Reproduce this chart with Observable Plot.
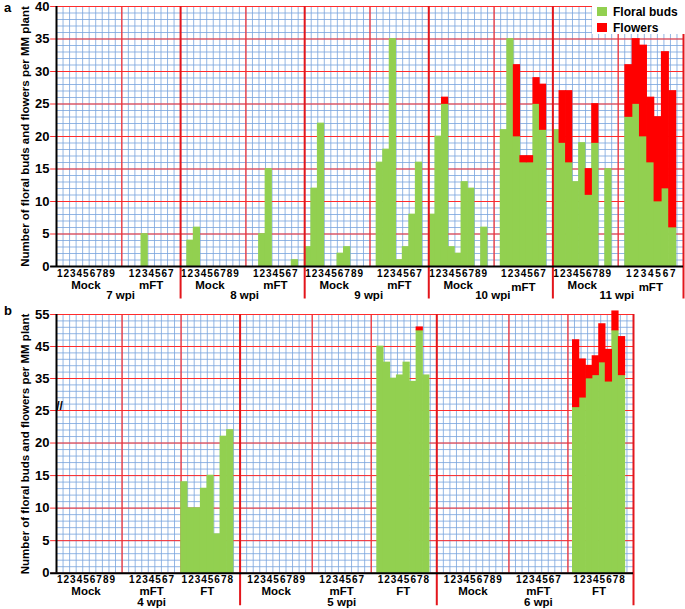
<!DOCTYPE html>
<html><head><meta charset="utf-8">
<script src="https://cdn.jsdelivr.net/npm/d3@7"></script>
<script src="https://cdn.jsdelivr.net/npm/@observablehq/plot@0.6"></script>
<style>
body{margin:0;background:#fff;}
#wrap{position:relative;width:685px;height:609px;font-family:"Liberation Sans",Arial,sans-serif;font-weight:bold;color:#000;}
#pa{position:absolute;left:0;top:0;}
#pb{position:absolute;left:0;top:303px;}
.plab{position:absolute;font-size:13px;line-height:13px;}
#legend{position:absolute;left:592px;top:0;width:93px;height:34px;background:#fff;font-size:12px;}
.sw{position:absolute;left:5px;width:10px;height:9px;}
.lt{position:absolute;left:21px;line-height:12px;}
</style></head>
<body><div id="wrap"><div id="pa"></div><div id="pb"></div>
<div class="plab" style="left:4px;top:1px;">a</div>
<div class="plab" style="left:4px;top:304px;">b</div>
<div id="legend"></div></div>
<script>
// ---------- data ----------
const seriesNames = ["Floral buds", "Flowers"];
const yTitle = "Number of floral buds and flowers per MM plant";
const treatA = ["Mock", "mFT"];
const treatB = ["Mock", "mFT", "FT"];

// panel a
const wpiA = ["7 wpi", "8 wpi", "9 wpi", "10 wpi", "11 wpi"];
const mockBudsA = [
  [0,0,0,0,0,0,0,0,0],
  [0,4,6,0,0,0,0,0,0],
  [3,12,22,0,0,2,3,0,0],
  [8,20,25,3,2,13,12,0,6],
  [21,19,16,13,19,11,19,0,15]
];
const mockFlowersA = [
  [0,0,0,0,0,0,0,0,0],
  [0,0,0,0,0,0,0,0,0],
  [0,0,0,0,0,0,0,0,0],
  [0,0,1,0,0,0,0,0,0],
  [0,8,11,0,0,4,6,0,0]
];
const mftBudsA = [
  [0,0,5,0,0,0,0],
  [0,5,15,0,0,0,1],
  [16,18,35,1,3,8,16],
  [21,35,20,16,16,25,21],
  [23,25,20,16,10,12,6]
];
const mftFlowersA = [
  [0,0,0,0,0,0,0],
  [0,0,0,0,0,0,0],
  [0,0,0,0,0,0,0],
  [0,0,11,1,1,4,7],
  [8,10,14,10,13,21,21]
];
const yTicksA = [0,5,10,15,20,25,30,35,40];

// panel b
const wpiB = ["4 wpi", "5 wpi", "6 wpi"];
const mockBudsB = [
  [0,0,0,0,0,0,0,0,0],
  [0,0,0,0,0,0,0,0,0],
  [0,0,0,0,0,0,0,0,0]
];
const mftBudsB = [
  [0,0,0,0,0,0,0],
  [0,0,0,0,0,0,0],
  [0,0,0,0,0,0,0]
];
const ftBudsB = [
  [14,10,10,13,15,6,21,22],
  [45,40,35,36,40,34,50,36],
  [26,29,35,36,40,34,50,36]
];
const ftFlowersB = [
  [0,0,0,0,0,0,0,0],
  [0,0,0,0,0,0,1,0],
  [21,12,4,6,12,10,6,12]
];
const yTicksB = [0,5,10,15,20,25,35,45,55];
const yBreak = 25;

// ---------- styling ----------
const GREEN = "#92d050", RED = "#ff0000";
const BLUE = "#78a4dd", GRID_RED = "#ff2b2b", BOUND = "#e3161c";
const FONT = "'Liberation Sans', Arial, sans-serif";

// ---------- layout (cell units) ----------
function build(groups) {
  const bars = [], digits = [], names = [];
  for (const g of groups) {
    const xs = [];
    g.buds.forEach((b, k) => {
      const x1 = g.start + g.offset + k * g.bw, x2 = x1 + g.bw;
      const f = g.flowers ? g.flowers[k] : 0;
      if (b > 0) bars.push({x1, x2, y1: 0, y2: b, s: seriesNames[0]});
      if (f > 0) bars.push({x1, x2, y1: b, y2: b + f, s: seriesNames[1]});
      digits.push({x: (x1 + x2) / 2, t: String(k + 1)});
      xs.push((x1 + x2) / 2);
    });
    g.center = d3.mean(xs);
    names.push({x: g.center, t: g.name, raised: g.raised});
  }
  return {bars, digits, names};
}

// panel a groups
const groupsA = [];
const wpiLabA = [];
wpiA.forEach((w, i) => {
  const last = i === wpiA.length - 1;
  const ms = 19 * i, fs = 19 * i + 10;
  groupsA.push({name: treatA[0], start: ms, offset: 0, bw: 1, buds: mockBudsA[i], flowers: mockFlowersA[i], raised: false});
  groupsA.push({name: treatA[1], start: fs, offset: last ? 1.07 : 1, bw: last ? 1.12 : 1, buds: mftBudsA[i], flowers: mftFlowersA[i], raised: i >= 3});
  wpiLabA.push({x: fs - 0.2, t: w});
});
const A = build(groupsA);
const NA = 96;
const thinA = [10, 29, 48, 67, 86];
const thickA = [19, 38, 57, 76, 96];

// panel b groups
const startsB = [[0, 10, 19], [28, 39, 48], [58, 69, 78]];
const offsB = [[0, 1, 0], [1, 1, 0.9], [1, 1, 0.75]];
const groupsB = [];
wpiB.forEach((w, i) => {
  groupsB.push({name: treatB[0], start: startsB[i][0], offset: offsB[i][0], bw: 1, buds: mockBudsB[i], flowers: null, raised: false});
  groupsB.push({name: treatB[1], start: startsB[i][1], offset: offsB[i][1], bw: 1, buds: mftBudsB[i], flowers: null, raised: false});
  groupsB.push({name: treatB[2], start: startsB[i][2], offset: offsB[i][2], bw: 1, buds: ftBudsB[i], flowers: ftFlowersB[i], raised: false});
});
const B = build(groupsB);
const wpiLabB = wpiB.map((w, i) => ({x: groupsB[i * 3 + 1].center, t: w}));
const NB = 88;
const thinB = [10, 19, 39, 48, 69, 78];
const thickB = [28, 58, 88];

function panel({N, yDomain, yRange, blueY, redY, ticks, thin, thick, data, wpiLab, height, marginTop, marginBottom, marginRight, digitDy, nameDy, wpiDy, extra}) {
  const y0 = yDomain[0], yTop = yDomain[yDomain.length - 1];
  return Plot.plot({
    width: 685, height, marginLeft: 56, marginRight, marginTop, marginBottom,
    style: {fontFamily: FONT, fontWeight: "bold", background: "transparent", overflow: "visible", color: "#000"},
    x: {type: "linear", domain: [0, N], axis: null},
    y: {type: "linear", domain: yDomain, range: yRange},
    color: {domain: seriesNames, range: [GREEN, RED]},
    marks: [
      Plot.ruleY(blueY, {x1: 0, x2: N, stroke: BLUE, strokeWidth: 1, strokeOpacity: 0.8}),
      Plot.ruleX(d3.range(1, N), {y1: y0, y2: yTop, stroke: BLUE, strokeWidth: 1, strokeOpacity: 0.8}),
      Plot.ruleY(redY, {x1: -0.9, x2: N, stroke: GRID_RED, strokeWidth: 1}),
      Plot.ruleX(thin, {y1: y0, y2: yTop, stroke: GRID_RED, strokeWidth: 1.2}),
      Plot.rect(data.bars.filter(d => d.s === seriesNames[0]), {x1: "x1", x2: "x2", y1: "y1", y2: "y2", fill: "s", inset: -0.35}),
      Plot.rect(data.bars.filter(d => d.s === seriesNames[1]), {x1: "x1", x2: "x2", y1: "y1", y2: "y2", fill: "s", inset: -0.35}),
      Plot.ruleX(thick, {y1: -5, y2: yTop, stroke: BOUND, strokeWidth: 2}),
      Plot.ruleY([0], {x1: -0.9, x2: N, stroke: "#000", strokeWidth: 2}),
      Plot.ruleX([0], {y1: 0, y2: yTop, stroke: "#000", strokeWidth: 2}),
      Plot.axisY({ticks, tickSize: 0, tickPadding: 7, fontSize: 13, fontWeight: "bold", label: null}),
      Plot.text([yTitle], {frameAnchor: "left", textAnchor: "middle", dx: -31, rotate: -90, fontSize: 11.5, fontWeight: "bold"}),
      Plot.text(data.digits, {x: "x", y: 0, dy: digitDy, text: "t", fontSize: 10, fontWeight: "bold"}),
      Plot.text(data.names.filter(d => !d.raised), {x: "x", y: 0, dy: nameDy, text: "t", fontSize: 11.5, fontWeight: "bold"}),
      Plot.text(data.names.filter(d => d.raised), {x: "x", y: 0, dy: nameDy + 2, text: "t", fontSize: 11.5, fontWeight: "bold"}),
      Plot.text(wpiLab, {x: "x", y: 0, dy: wpiDy, text: "t", fontSize: 11.5, fontWeight: "bold"}),
      ...(extra || [])
    ]
  });
}

const plotA = panel({
  N: NA, yDomain: [0, 40], yRange: [266, 6],
  blueY: d3.range(0, 41), redY: yTicksA, ticks: yTicksA,
  thin: thinA, thick: thickA, data: A, wpiLab: wpiLabA,
  height: 303, marginTop: 6, marginBottom: 37, marginRight: 2, digitDy: 7.5, nameDy: 18.5, wpiDy: 29
});
document.getElementById("pa").appendChild(plotA);

const blueYB = d3.range(0, yBreak).concat(d3.range(yBreak, 56, 2));
const plotB = panel({
  N: NB, yDomain: [0, yBreak, 55], yRange: [269.7, 107, 11],
  blueY: blueYB, redY: yTicksB, ticks: yTicksB,
  thin: thinB, thick: thickB, data: B, wpiLab: wpiLabB,
  height: 306, marginTop: 11, marginBottom: 36, marginRight: 52, digitDy: 7, nameDy: 18.5, wpiDy: 29,
  extra: [Plot.text(["//"], {x: 0, y: yBreak, dy: -4, dx: 3, text: d => d, fontSize: 12, fontWeight: "bold"})]
});
document.getElementById("pb").appendChild(plotB);

// legend
const lg = document.getElementById("legend");
[[GREEN, 7], [RED, 23]].forEach(([c, top], i) => {
  const sw = document.createElement("div");
  sw.className = "sw"; sw.style.top = top + "px"; sw.style.background = c;
  lg.appendChild(sw);
  const t = document.createElement("div");
  t.className = "lt"; t.style.top = (top - 1) + "px"; t.textContent = seriesNames[i];
  lg.appendChild(t);
});
</script>
</body></html>
